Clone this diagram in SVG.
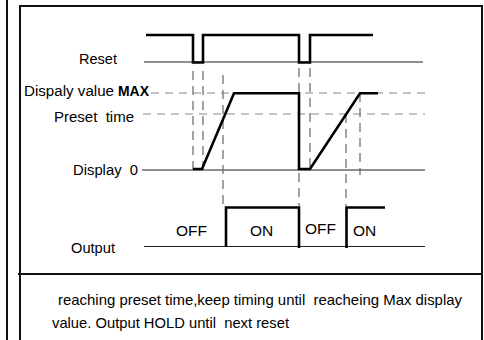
<svg xmlns="http://www.w3.org/2000/svg" width="484" height="340" viewBox="0 0 484 340">
<style>
.frame{fill:none;stroke:#111;stroke-width:2}
.base{fill:none;stroke:#222;stroke-width:1.2}
.wave{fill:none;stroke:#000;stroke-width:2.6;stroke-linejoin:miter}
.dash{fill:none;stroke:#666;stroke-width:1.2;stroke-dasharray:9 6}
.hdash{fill:none;stroke:#888;stroke-width:1;stroke-dasharray:8 6}
text{font-family:"Liberation Sans",Arial,sans-serif;font-size:15.5px;fill:#000}
.note{font-size:15px}
</style>
<rect width="484" height="340" fill="#fff"/>
<g id="frame">
<line class="frame" x1="7" y1="0" x2="7" y2="340"/>
<polyline class="frame" points="20,340 20,6 482,6 482,340"/>
<line class="frame" x1="18" y1="274" x2="483" y2="274"/>
</g>
<g id="baselines">
<line class="base" x1="144" y1="62" x2="423" y2="62"/>
<line class="hdash" x1="151" y1="93" x2="425" y2="93"/>
<line class="hdash" x1="143" y1="114" x2="425" y2="114" stroke="#666"/>
<line class="base" x1="142" y1="170" x2="425" y2="170"/>
<line class="base" x1="144" y1="246.5" x2="425" y2="246.5"/>
</g>
<g id="guides">
<line class="dash" x1="193" y1="71" x2="193" y2="170"/>
<line class="dash" x1="203" y1="71" x2="203" y2="170"/>
<line class="dash" x1="223" y1="75" x2="223" y2="206"/>
<line class="dash" x1="299" y1="68" x2="299" y2="206"/>
<line class="dash" x1="310" y1="68" x2="310" y2="170"/>
<line class="dash" x1="346" y1="114" x2="346" y2="206"/>
<line class="dash" x1="360" y1="93" x2="360" y2="175"/>
</g>
<g id="reset-wave">
<polyline class="wave" points="146,35 193,35 193,62.5 203,62.5 203,35 299,35 299,62.5 310,62.5 310,35 373,35"/>
</g>
<g id="display-wave">
<polyline class="wave" points="193,169 202,169 234,93.3 299,93.3 299,169 310,169 360,93.3 378,93.3"/>
</g>
<g id="output-wave">
<polyline class="wave" points="226,247 226,207.5 299,207.5 299,248"/>
<polyline class="wave" points="346.5,248 346.5,207.5 385,207.5"/>
</g>
<g id="labels">
<text x="79" y="64" textLength="38" lengthAdjust="spacingAndGlyphs">Reset</text>
<text x="24" y="96" textLength="90" lengthAdjust="spacingAndGlyphs">Dispaly value</text>
<text x="118" y="96" textLength="31" lengthAdjust="spacingAndGlyphs" font-weight="bold">MAX</text>
<text x="54" y="122" textLength="80" lengthAdjust="spacingAndGlyphs" xml:space="preserve">Preset  time</text>
<text x="73" y="175" textLength="65" lengthAdjust="spacingAndGlyphs" xml:space="preserve">Display  0</text>
<text x="71" y="253" textLength="44" lengthAdjust="spacingAndGlyphs">Output</text>
<text x="176" y="235.5">OFF</text>
<text x="250" y="235.5">ON</text>
<text x="305" y="233.5">OFF</text>
<text x="353" y="235.5">ON</text>
</g>
<g id="note">
<text class="note" x="58" y="305" textLength="404" lengthAdjust="spacingAndGlyphs" xml:space="preserve">reaching preset time,keep timing until  reacheing Max display</text>
<text class="note" x="52" y="328" textLength="237" lengthAdjust="spacingAndGlyphs" xml:space="preserve">value. Output HOLD until  next reset</text>
</g>
</svg>
